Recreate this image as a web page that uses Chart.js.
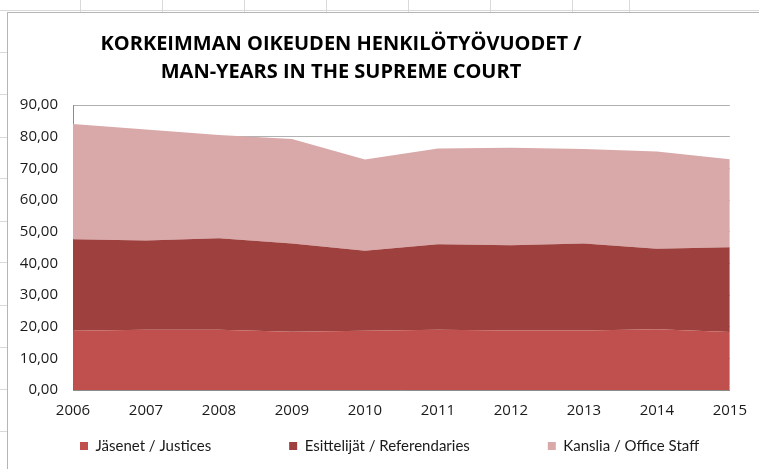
<!DOCTYPE html>
<html>
<head>
<meta charset="utf-8">
<script src="https://cdn.jsdelivr.net/npm/chart.js@4.4.1/dist/chart.umd.min.js"></script>
<style>
  body { margin: 0; width: 759px; height: 469px; overflow: hidden; background: #fff; position: relative; font-family: "Open Sans", sans-serif; }
  .cell-v { position: absolute; top: 0; width: 1px; height: 12px; background: #d9d9d9; }
  .cell-h { position: absolute; left: 0; width: 7px; height: 1px; background: #d9d9d9; }
  #frame { position: absolute; left: 7px; top: 12px; width: 751px; height: 456px; border-left: 1px solid #b5b5b5; border-top: 1px solid #b5b5b5; background: #fff; }
  #title { position: absolute; left: 0; top: 16px; width: 666px; text-align: center; font-family: "Open Sans", sans-serif; font-weight: bold; font-size: 20px; line-height: 28px; color: #000; }
  canvas { position: absolute; left: 0; top: 0; }
</style>
</head>
<body>
<div class="cell-h" style="top:10px;width:759px"></div>
<div class="cell-v" style="left:80px"></div>
<div class="cell-v" style="left:162px"></div>
<div class="cell-v" style="left:244px"></div>
<div class="cell-v" style="left:326px"></div>
<div class="cell-v" style="left:408px"></div>
<div class="cell-v" style="left:490px"></div>
<div class="cell-v" style="left:572px"></div>
<div class="cell-v" style="left:629px"></div>
<div class="cell-h" style="top:52px"></div>
<div class="cell-h" style="top:94px"></div>
<div class="cell-h" style="top:137px"></div>
<div class="cell-h" style="top:178px"></div>
<div class="cell-h" style="top:221px"></div>
<div class="cell-h" style="top:262px"></div>
<div class="cell-h" style="top:305px"></div>
<div class="cell-h" style="top:347px"></div>
<div class="cell-h" style="top:389px"></div>
<div class="cell-h" style="top:431px"></div>

<div id="frame">
  <canvas id="chart" width="751" height="456"></canvas>
  <div id="title">KORKEIMMAN OIKEUDEN HENKILÖTYÖVUODET /<br>MAN-YEARS IN THE SUPREME COURT</div>
</div>

<script>
// Vuodet ja sarjat (luettu kuvasta)
const years = ['2006', '2007', '2008', '2009', '2010', '2011', '2012', '2013', '2014', '2015'];
const justices = [18.7, 19.0, 19.0, 18.4, 18.7, 19.0, 18.8, 18.8, 19.2, 18.3];
const referendaries = [28.9, 28.2, 28.9, 27.9, 25.3, 27.0, 26.9, 27.5, 25.4, 26.8];
const officeStaff = [36.4, 35.1, 32.6, 33.0, 28.8, 30.3, 30.8, 29.8, 30.7, 27.8];
const seriesNames = ['Jäsenet / Justices', 'Esittelijät / Referendaries', 'Kanslia / Office Staff'];

const tickFont = { family: 'Open Sans', size: 15 };
const legendGap = 78;

// Legenda yhdelle riville ja omaan kohtaansa
const legendPlace = {
    id: 'legendPlace',
    beforeInit(chart) {
        const fit = chart.legend.fit;
        chart.legend.fit = function () {
            this.maxWidth = 3000;
            fit.call(this);
            this.height = 41;
        };
    },
    afterLayout(chart) {
        const lg = chart.legend;
        lg.left = 72 - legendGap;
        lg.right = 72 + lg.lineWidths[0];
        lg.top = 433 - 7.5 - legendGap;
    }
};

function area(label, values, color, fill) {
    return {
        label: label,
        data: values,
        backgroundColor: color,
        borderColor: color,
        borderWidth: 0,
        pointRadius: 0,
        fill: fill,
        tension: 0
    };
}

new Chart(document.getElementById('chart').getContext('2d'), {
    type: 'line',
    data: {
        labels: years,
        datasets: [
            area(seriesNames[0], justices, '#C0504D', 'origin'),
            area(seriesNames[1], referendaries, '#9E403E', '-1'),
            area(seriesNames[2], officeStaff, '#D9A9A9', '-1')
        ]
    },
    options: {
        responsive: false,
        animation: false,
        layout: { padding: { top: 92, right: 26, bottom: 0, left: 0 } },
        plugins: {
            tooltip: { enabled: false },
            legend: {
                position: 'bottom',
                labels: {
                    boxWidth: 8,
                    boxHeight: 8,
                    padding: legendGap,
                    color: '#1a1a1a',
                    font: { family: 'Lato', size: 15 }
                }
            }
        },
        scales: {
            x: {
                offset: false,
                grid: { display: false, drawTicks: false },
                border: { display: true, color: '#8c8c8c', width: 1 },
                ticks: { color: '#1a1a1a', font: tickFont, padding: 12, maxRotation: 0 },
                afterFit(scale) { scale.height = 38; }
            },
            y: {
                stacked: true,
                min: 0,
                max: 90,
                grid: { color: '#b0b0b0', drawTicks: false },
                border: { display: true, color: '#8c8c8c', width: 1 },
                ticks: {
                    stepSize: 10,
                    padding: 15,
                    color: '#1a1a1a',
                    font: tickFont,
                    callback: v => v.toFixed(2).replace('.', ',')
                },
                afterFit(scale) { scale.width = 65; }
            }
        }
    },
    plugins: [legendPlace]
});
</script>
</body>
</html>
